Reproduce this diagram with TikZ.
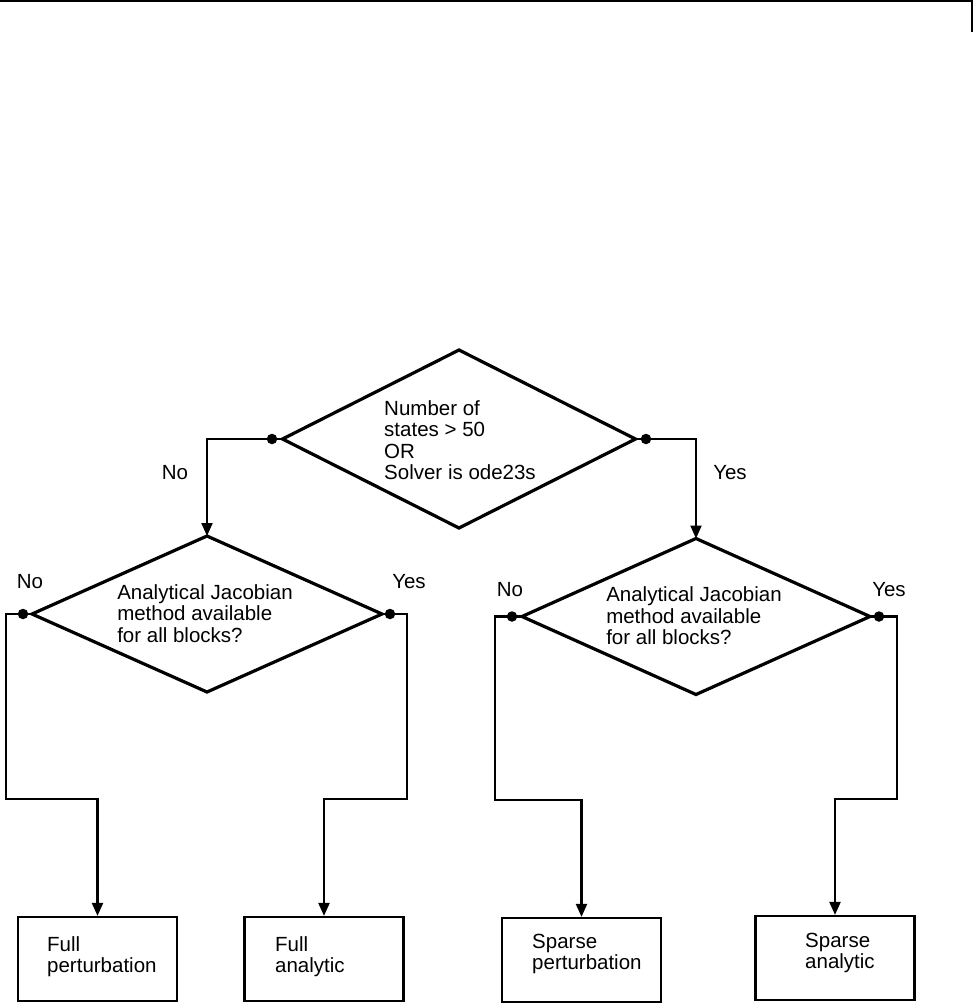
\documentclass[tikz,border=0pt]{standalone}
\usepackage{fontspec}
\setmainfont{Liberation Sans}
\usetikzlibrary{shapes.geometric,arrows.meta}
\begin{document}
\begin{tikzpicture}[x=1pt,y=-1pt,
  dia/.style={draw,shape=diamond,line width=3.2pt,inner sep=0pt,outer sep=0pt,line join=miter},
  dtext/.style={inner sep=0pt,align=left,font=\fontsize{20.5}{21.5}\selectfont},
  box/.style={draw,line width=2.2pt,minimum width=159pt,minimum height=84pt,inner sep=0pt},
  lbl/.style={inner sep=0pt,align=left,font=\fontsize{20.5}{21}\selectfont},
  dot/.style={circle,fill=black,inner sep=0pt,minimum size=10.5pt},
  conn/.style={line width=2.2pt,-{Triangle[length=13pt,width=11pt]}},
  plain/.style={line width=2.2pt}]
\useasboundingbox (0,0) rectangle (973,1007);
% frame marks at top
\coordinate (f0) at (0,1);
\coordinate (f1) at (972,1);
\coordinate (f2) at (972,32);
\draw[line width=1.6pt] (f0) -- (f1) -- (f2);
% decisions
\node[dia,minimum width=353pt,minimum height=178pt] (d1) at (459,439) {};
\node[dia,minimum width=350pt,minimum height=156pt] (d2) at (207,614) {};
\node[dia,minimum width=348pt,minimum height=156pt] (d3) at (696,616.5) {};
\node[dtext] (d1t) at (460,440) {Number of\\states > 50\\OR\\Solver is ode23s};
\node[dtext] (d2t) at (205,613.5) {Analytical Jacobian\\method available\\for all blocks?};
\node[dtext] (d3t) at (694,616) {Analytical Jacobian\\method available\\for all blocks?};
% dots
\node[dot] (p1l) at (272,439) {};
\node[dot] (p1r) at (646,439) {};
\node[dot] (p2l) at (23,614) {};
\node[dot] (p2r) at (390,614) {};
\node[dot] (p3l) at (512,616.5) {};
\node[dot] (p3r) at (879,616.5) {};
% result boxes
\node[box] (b1) at (97.5,959) {};
\node[box] (b2) at (324,959) {};
\node[box] (b3) at (581.5,960) {};
\node[box] (b4) at (835,958) {};
\node[lbl,anchor=west] (t1) at (47,956.5) {Full\\perturbation};
\node[lbl,anchor=west] (t2) at (275,956.5) {Full\\analytic};
\node[lbl,anchor=west] (t3) at (532,953.5) {Sparse\\perturbation};
\node[lbl,anchor=west] (t4) at (805,953) {Sparse\\analytic};
% labels
\node[lbl] (l1) at (175,473) {No};
\node[lbl] (l2) at (730,473) {Yes};
\node[lbl] (l3) at (30,582) {No};
\node[lbl] (l4) at (409,582) {Yes};
\node[lbl] (l5) at (510,590) {No};
\node[lbl] (l6) at (889,590) {Yes};
% corner coordinates
\coordinate (k1) at (6,799);
\coordinate (k2) at (407,799);
\coordinate (k3) at (495,800);
\coordinate (k4) at (897,799);
% connectors
\draw[plain] (p1l.center) -- (d1.west);
\draw[plain] (p1r.center) -- (d1.east);
\draw[plain] (p2l.center) -- (d2.west);
\draw[plain] (p2r.center) -- (d2.east);
\draw[plain] (p3l.center) -- (d3.west);
\draw[plain] (p3r.center) -- (d3.east);
\draw[conn] (p1l.center) -| (d2.north);
\draw[conn] (p1r.center) -| (d3.north);
\draw[conn] (p2l.center) -| (k1) -| (b1.north);
\draw[conn] (p2r.center) -| (k2) -| (b2.north);
\draw[conn] (p3l.center) -| (k3) -| (b3.north);
\draw[conn] (p3r.center) -| (k4) -| (b4.north);
\end{tikzpicture}
\end{document}
